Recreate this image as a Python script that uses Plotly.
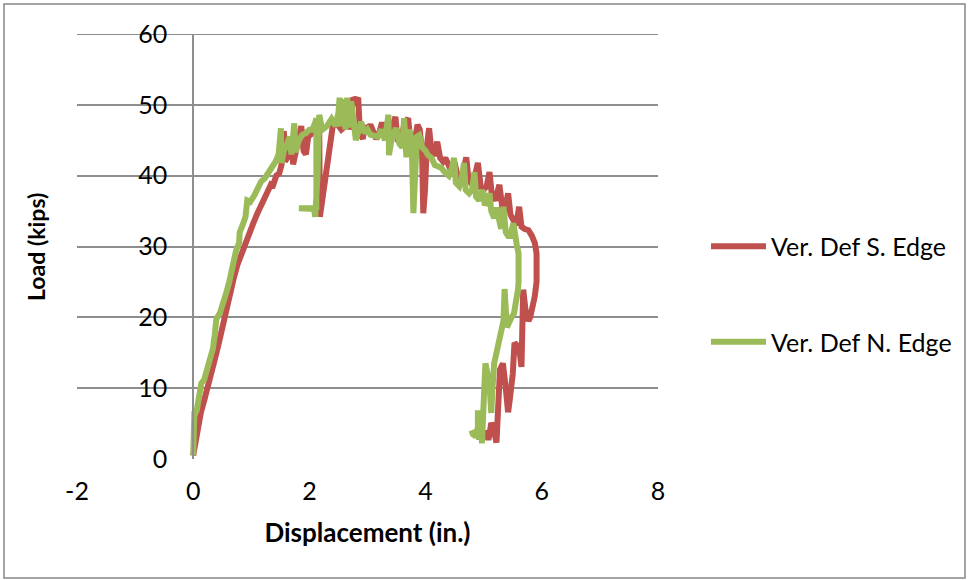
import plotly.graph_objects as go

# ---- data (displacement in., load kips) ----
s_edge_x = [0.00, 0.04, 0.08, 0.13, 0.19, 0.25, 0.31, 0.37, 0.43, 0.49, 0.53, 0.58, 0.64, 0.70, 0.76,
            0.82, 0.88, 0.95, 1.03, 1.10, 1.18, 1.26, 1.30, 1.33, 1.36, 1.43, 1.48, 1.52, 1.56,
            1.58, 1.64, 1.70, 1.72, 1.78, 1.86, 1.90, 1.94, 1.98, 2.05, 2.12, 2.17, 2.18, 2.22, 2.28,
            2.34, 2.40, 2.46, 2.55, 2.62, 2.67, 2.70, 2.75, 2.80, 2.84, 2.87, 2.92, 2.95, 3.00, 3.05,
            3.10, 3.15, 3.20, 3.25, 3.30, 3.35, 3.42, 3.48, 3.52, 3.58, 3.64, 3.70, 3.74, 3.80, 3.86,
            3.90, 3.94, 3.96, 3.99, 4.02, 4.06, 4.10, 4.15, 4.20, 4.25, 4.30, 4.34, 4.40, 4.45, 4.50,
            4.55, 4.62, 4.70, 4.74, 4.80, 4.85, 4.90, 4.95, 5.00, 5.05, 5.10, 5.14, 5.20, 5.27, 5.32,
            5.36, 5.42, 5.46, 5.52, 5.56, 5.61, 5.65, 5.70, 5.77, 5.83, 5.88, 5.91, 5.92, 5.91, 5.88,
            5.85, 5.80, 5.77, 5.72, 5.68, 5.67, 5.65, 5.62, 5.58, 5.53, 5.50, 5.45, 5.42, 5.38, 5.33,
            5.28, 5.24, 5.22, 5.18, 5.13, 5.10, 5.08, 5.04]
s_edge_y = [0.5, 2.5, 4.5, 6.5, 8.3, 10.0, 12.0, 14.0, 16.0, 18.2, 20.0, 21.8, 23.8, 25.6, 27.4,
            28.8, 30.0, 31.6, 33.2, 34.6, 36.0, 37.3, 38.2, 38.6, 38.3, 40.0, 40.3, 41.5, 46.3,
            42.0, 42.8, 44.5, 41.6, 44.0, 47.0, 43.5, 43.0, 45.5, 46.0, 46.5, 46.0, 34.2, 36.5, 40.0,
            44.0, 46.9, 47.5, 46.5, 47.0, 50.0, 46.5, 51.0, 50.5, 51.0, 46.0, 45.2, 47.0, 46.5, 47.2,
            46.0, 45.2, 46.0, 47.5, 45.8, 45.5, 46.5, 48.3, 44.8, 45.3, 47.5, 48.1, 44.5, 44.2, 47.2,
            46.5, 43.0, 34.7, 38.0, 44.0, 46.7, 43.5, 42.8, 44.8, 42.5, 42.0, 42.5, 41.5, 40.5, 41.8,
            40.0, 39.5, 42.6, 39.3, 38.8, 40.0, 41.8, 38.3, 38.0, 38.5, 40.5, 37.3, 36.5, 38.7, 35.5,
            35.0, 37.5, 34.5, 33.5, 33.0, 35.6, 32.8, 32.5, 32.3, 31.5, 30.5, 29.0, 27.0, 25.0, 23.0,
            21.5, 20.0, 19.5, 21.0, 23.9, 18.0, 13.0, 15.0, 16.0, 16.4, 12.0, 8.5, 6.6, 10.0, 13.5,
            12.6, 6.0, 2.3, 4.0, 5.1, 3.5, 2.7, 4.1]

n_edge_x = [0.00, 0.01, 0.02, 0.06, 0.09, 0.12, 0.14, 0.19, 0.24, 0.29, 0.34, 0.37, 0.40, 0.46, 0.52,
            0.57, 0.62, 0.66, 0.70, 0.74, 0.79, 0.80, 0.85, 0.90, 0.93, 0.98, 1.05, 1.12, 1.17, 1.23,
            1.30, 1.36, 1.42, 1.47, 1.51, 1.52, 1.56, 1.62, 1.66, 1.69, 1.74, 1.76, 1.82, 1.88, 1.94,
            2.00, 2.05, 2.10, 2.12, 2.12, 2.08, 1.82, 2.08, 2.10, 2.14, 2.17, 2.22, 2.30, 2.38, 2.45,
            2.50, 2.52, 2.55, 2.60, 2.62, 2.65, 2.68, 2.72, 2.75, 2.80, 2.85, 2.89, 2.95, 3.00, 3.05,
            3.12, 3.18, 3.24, 3.30, 3.36, 3.37, 3.42, 3.49, 3.55, 3.60, 3.63, 3.67, 3.72, 3.76, 3.79,
            3.82, 3.85, 3.89, 3.94, 4.00, 4.04, 4.10, 4.16, 4.22, 4.27, 4.33, 4.40, 4.45, 4.49, 4.52,
            4.58, 4.62, 4.66, 4.69, 4.75, 4.80, 4.84, 4.87, 4.92, 4.98, 5.02, 5.06, 5.10, 5.13, 5.18,
            5.22, 5.26, 5.30, 5.34, 5.38, 5.42, 5.46, 5.51, 5.54, 5.57, 5.60, 5.61, 5.60, 5.59, 5.56,
            5.52, 5.48, 5.44, 5.40, 5.37, 5.36, 5.34, 5.30, 5.26, 5.23, 5.21, 5.18, 5.15, 5.13, 5.10,
            5.06, 5.03, 5.01, 4.99, 4.97, 4.96, 4.94, 4.92, 4.90, 4.90, 4.86, 4.82, 4.76]
n_edge_y = [0.5, 3.0, 6.5, 6.8, 8.5, 9.5, 10.7, 11.2, 12.6, 14.2, 15.6, 17.5, 19.8, 20.6, 22.0,
            23.5, 25.0, 26.5, 28.3, 29.5, 30.5, 32.0, 33.0, 34.2, 36.5, 36.3, 37.2, 38.3, 39.2, 39.6,
            40.5, 41.0, 42.0, 43.0, 46.7, 41.8, 43.5, 44.5, 45.5, 43.0, 47.4, 43.3, 45.0, 45.8, 46.0,
            46.5, 46.5, 47.5, 48.1, 35.5, 35.4, 35.4, 35.3, 34.2, 40.0, 48.6, 46.5, 47.0, 48.0, 47.0,
            48.9, 51.0, 47.0, 50.8, 46.5, 51.0, 46.8, 50.5, 47.5, 45.0, 46.5, 47.6, 46.0, 46.5, 45.8,
            45.7, 45.5, 46.5, 45.0, 48.6, 42.9, 45.5, 46.7, 44.5, 44.0, 48.1, 42.6, 46.5, 45.0, 34.7,
            40.0, 45.5, 45.7, 44.0, 43.5, 42.9, 42.5, 41.5, 41.3, 41.1, 40.5, 40.0, 41.0, 42.5, 39.0,
            38.5, 39.5, 41.8, 38.0, 37.5, 38.0, 40.5, 37.0, 36.5, 38.0, 35.8, 36.5, 37.5, 35.0, 34.0,
            35.5, 33.5, 32.5, 35.6, 32.0, 31.5, 31.5, 33.3, 31.0, 30.2, 29.0, 27.0, 25.0, 23.9, 22.0,
            20.5, 20.0, 19.2, 18.6, 22.5, 24.0, 19.5, 17.8, 16.2, 15.0, 14.0, 13.5, 10.0, 6.5, 10.5,
            13.2, 13.5, 10.0, 4.0, 2.2, 5.0, 6.0, 2.7, 6.9, 4.5, 3.1, 3.7, 3.5]
n_edge_x = n_edge_x[:len(n_edge_y)]
n_edge_y = n_edge_y[:len(n_edge_x)]

series_names = ["Ver. Def S. Edge", "Ver. Def N. Edge"]
series_colors = ["#C0504D", "#9BBB59"]
x_ticks = [-2, 0, 2, 4, 6, 8]
y_ticks = [0, 10, 20, 30, 40, 50, 60]

FONT = "Lato"
FS = 25

fig = go.Figure()
for name, color, xs, ys, grp in [
    (series_names[0], series_colors[0], s_edge_x, s_edge_y, "s"),
    (series_names[1], series_colors[1], n_edge_x, n_edge_y, "n"),
]:
    fig.add_trace(go.Scatter(
        x=xs, y=ys, mode="lines", name=name, legendgroup=grp,
        line=dict(color=color, width=6),
    ))

# plot area pixel geometry
L, R, T, B = 77, 658, 34, 459
W, H = 969, 580
pw, ph = R - L, B - T
x0_frac = (0 - (-2)) / 10.0

fig.update_layout(
    width=W, height=H,
    margin=dict(l=L, r=W - R, t=T, b=H - B, pad=0, autoexpand=False),
    paper_bgcolor="white", plot_bgcolor="white",
    font=dict(family=FONT, size=FS, color="black"),
    showlegend=True,
    legend=dict(
        x=(706 - L) / pw, y=(B - 294) / ph, xanchor="left", yanchor="middle",
        tracegroupgap=60, itemwidth=55, bgcolor="rgba(0,0,0,0)",
        font=dict(family=FONT, size=FS, color="black"),
    ),
    xaxis=dict(
        range=[-2, 8], tickvals=x_ticks, ticktext=[str(v) for v in x_ticks],
        showgrid=False, zeroline=False, showline=False, ticks="", automargin=False,
        title=dict(text="<b>Displacement (in.)</b>", standoff=19,
                   font=dict(family=FONT, size=26)),
        tickfont=dict(family=FONT, size=FS),
        ticklabelstandoff=15,
    ),
    yaxis=dict(
        range=[0, 60], tickvals=y_ticks, ticktext=[str(v) for v in y_ticks],
        showgrid=True, gridcolor="#8E8E8E", gridwidth=2, automargin=False,
        zeroline=False, showline=True, linecolor="#8E8E8E", linewidth=2,
        anchor="free", position=x0_frac, ticks="",
        tickfont=dict(family=FONT, size=FS),
        ticklabelstandoff=20,
    ),
    annotations=[
        dict(text="<b>Load (kips)</b>", textangle=-90, xref="paper", yref="paper",
             x=(36 - L) / pw, y=(B - 247) / ph, xanchor="center", yanchor="middle",
             showarrow=False, font=dict(family=FONT, size=23)),
    ],
    shapes=[
        dict(type="rect", xref="paper", yref="paper",
             x0=(4 - L) / pw, x1=(965 - L) / pw, y0=(B - 578) / ph, y1=(B - 4) / ph,
             line=dict(color="#868686", width=1.5), fillcolor="rgba(0,0,0,0)", layer="below"),
        dict(type="line", xref="x", yref="y", x0=-2, x1=8, y0=60, y1=60,
             line=dict(color="#8E8E8E", width=2), layer="below"),
    ],
)

fig.write_html("out.html",
               config={"displayModeBar": False},
               post_script="document.body.style.margin='0';document.body.style.overflow='hidden';")
